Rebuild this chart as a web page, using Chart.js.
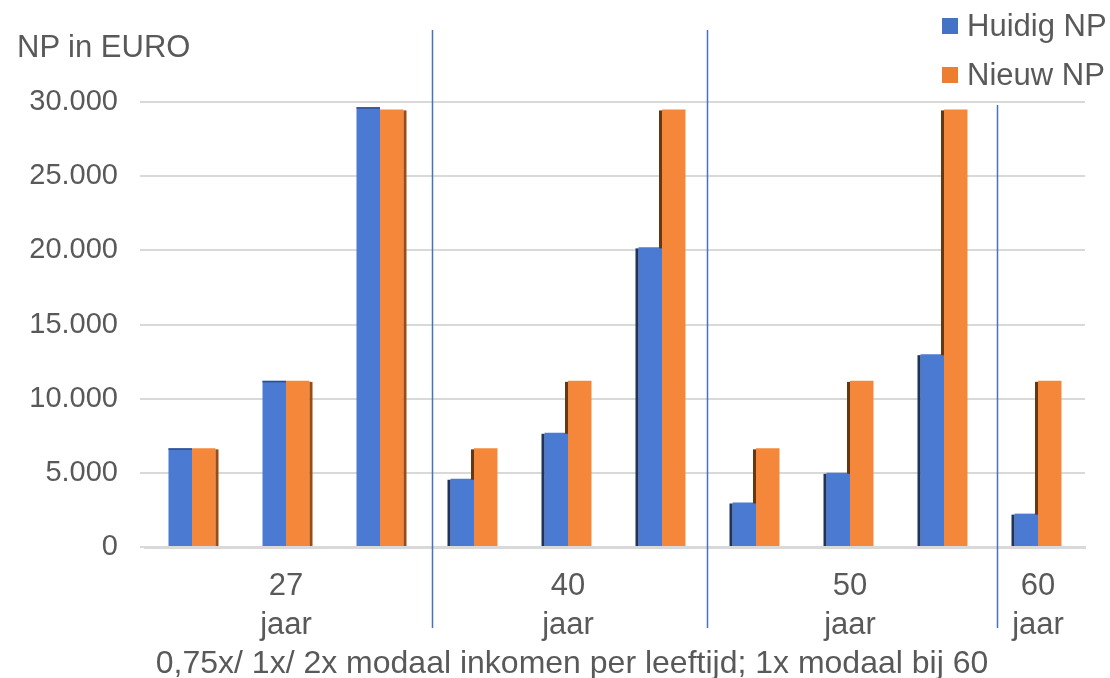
<!DOCTYPE html>
<html>
<head>
<meta charset="utf-8">
<script src="https://cdn.jsdelivr.net/npm/chart.js@4/dist/chart.umd.min.js"></script>
<style>
  html, body { margin: 0; padding: 0; background: #ffffff; }
  #wrap { position: relative; width: 1110px; height: 678px; }
  canvas { position: absolute; left: 0; top: 0; }
  .txt { position: absolute; font-family: "Liberation Sans", Arial, sans-serif; color: #595959; font-size: 31px; line-height: 36px; white-space: nowrap; }
  .sw { display: inline-block; width: 16px; height: 16px; margin-right: 9px; vertical-align: 2px; }
</style>
</head>
<body>
<div id="wrap">
  <canvas id="c" width="1110" height="678"></canvas>
  <div class="txt" style="left:17px; top:29px;">NP in EURO</div>
  <div class="txt" style="left:942px; top:8px;"><span class="sw" style="background:#4472C4"></span>Huidig NP</div>
  <div class="txt" style="left:942px; top:57px;"><span class="sw" style="background:#ED7D31"></span>Nieuw NP</div>
  <div id="xt" class="txt" style="left:0; width:1144px; text-align:center; top:644px; font-size:32px;"></div>
</div>
<script>
const categories = [
  '', ['27', 'jaar'], '',
  '', ['40', 'jaar'], '',
  '', ['50', 'jaar'], '',
  ['60', 'jaar']
];
const seriesNames = ['Huidig NP', 'Nieuw NP'];
const huidigNP = [6650, 11200, 29650, 4600, 7700, 20200, 3000, 5000, 13000, 2250];
const nieuwNP  = [6650, 11200, 29500, 6650, 11200, 29500, 6650, 11200, 29500, 11200];
const yTicks = [0, 5000, 10000, 15000, 20000, 25000, 30000];
const xTitle = '0,75x/ 1x/ 2x modaal inkomen per leeftijd; 1x modaal bij 60';

document.getElementById('xt').textContent = xTitle;

const FONT = '"Liberation Sans", Arial, sans-serif';
const TXT = '#595959';

const shadePlugin = {
  id: 'shade',
  afterDatasetsDraw(chart) {
    const ctx = chart.ctx;
    const b = chart.getDatasetMeta(0).data;
    const o = chart.getDatasetMeta(1).data;
    ctx.save();
    for (let i = 0; i < b.length; i++) {
      const bp = b[i].getProps(['x', 'y', 'base', 'width'], true);
      const op = o[i].getProps(['x', 'y', 'base', 'width'], true);
      if (i < 3) {
        ctx.fillStyle = '#9A4C16';
        ctx.fillRect(op.x + op.width / 2, op.y + 1, 3, op.base - op.y - 1);
        ctx.fillStyle = '#2F4F8A';
        ctx.fillRect(bp.x - bp.width / 2, bp.y, bp.width, 1.5);
      } else {
        ctx.fillStyle = '#1E3460';
        ctx.fillRect(bp.x - bp.width / 2 - 3, bp.y + 1, 3, bp.base - bp.y - 1);
        ctx.fillStyle = '#6A3610';
        if (bp.y > op.y) ctx.fillRect(op.x - op.width / 2 - 3, op.y + 1, 3, bp.y - op.y);
      }
    }
    ctx.restore();
  }
};

const sepPlugin = {
  id: 'separators',
  afterDraw(chart, args, opts) {
    const ctx = chart.ctx;
    const xs = chart.scales.x;
    ctx.save();
    ctx.strokeStyle = '#4472C4';
    ctx.lineWidth = 1.5;
    opts.lines.forEach(l => {
      const x = Math.round(xs.getPixelForValue(l.at)) + 0.5;
      ctx.beginPath();
      ctx.moveTo(x, l.top);
      ctx.lineTo(x, l.bottom);
      ctx.stroke();
    });
    ctx.restore();
  }
};

new Chart(document.getElementById('c'), {
  type: 'bar',
  data: {
    labels: categories,
    datasets: [
      { label: seriesNames[0], data: huidigNP, backgroundColor: '#4A7AD2', borderWidth: 0,
        categoryPercentage: 0.5, barPercentage: 1.0 },
      { label: seriesNames[1], data: nieuwNP, backgroundColor: '#F4873A', borderWidth: 0,
        categoryPercentage: 0.5, barPercentage: 1.0 }
    ]
  },
  options: {
    responsive: false,
    animation: false,
    devicePixelRatio: 1,
    layout: { padding: { top: 102, right: 25, left: 0, bottom: 0 } },
    plugins: {
      legend: { display: false },
      tooltip: { enabled: false },
      separators: {
        lines: [
          { at: 2.55, top: 30, bottom: 628 },
          { at: 5.48, top: 30, bottom: 628 },
          { at: 8.56, top: 105, bottom: 628 }
        ]
      }
    },
    scales: {
      x: {
        grid: { display: false },
        border: { display: true, color: '#D9D9D9', width: 3 },
        ticks: {
          autoSkip: false, maxRotation: 0, color: TXT, padding: 12,
          font: { family: FONT, size: 31, lineHeight: 1.26 }
        },
        afterFit(s) { s.height = 131; }
      },
      y: {
        min: 0, max: 30000,
        afterBuildTicks(s) { s.ticks = yTicks.map(v => ({ value: v })); },
        grid: { color: '#D9D9D9', lineWidth: 2, tickLength: 5, drawTicks: true },
        border: { display: false },
        ticks: {
          color: TXT, padding: 22,
          font: { family: FONT, size: 29 },
          callback: v => v === 0 ? '0' : v.toLocaleString('de-DE')
        },
        afterFit(s) { s.width = 145; }
      }
    }
  },
  plugins: [shadePlugin, sepPlugin]
});
</script>
</body>
</html>
